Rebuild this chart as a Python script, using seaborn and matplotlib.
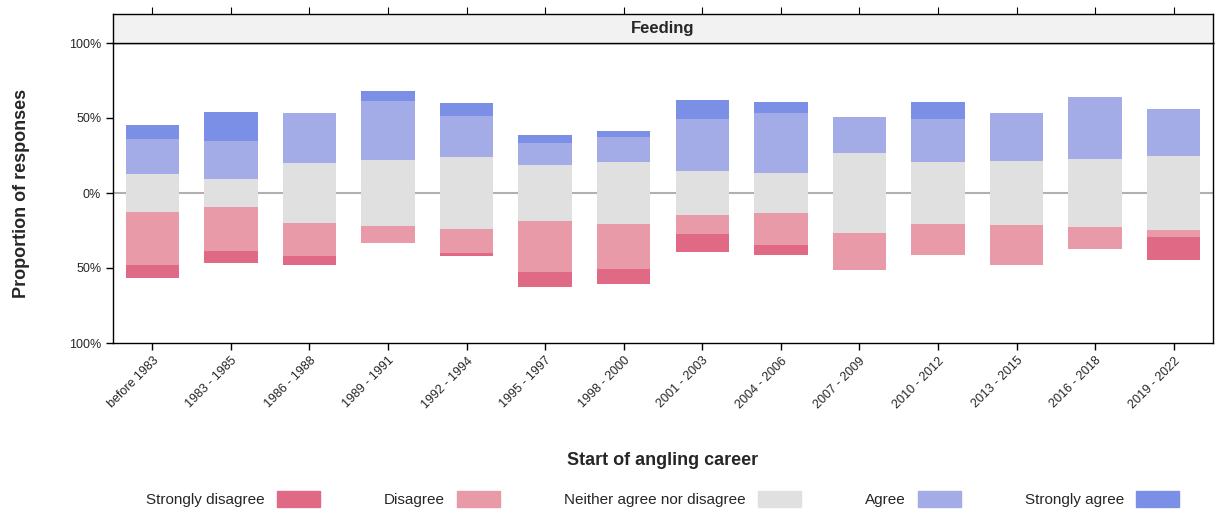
import numpy as np
import matplotlib
matplotlib.use("Agg")
import matplotlib.pyplot as plt
import matplotlib.patches as mpatches
import seaborn as sns

sns.set_style("white")
plt.rcParams['font.family'] = ['Liberation Sans', 'DejaVu Sans']

categories = ["before 1983", "1983 - 1985", "1986 - 1988", "1989 - 1991", "1992 - 1994",
              "1995 - 1997", "1998 - 2000", "2001 - 2003", "2004 - 2006", "2007 - 2009",
              "2010 - 2012", "2013 - 2015", "2016 - 2018", "2019 - 2022"]
strongly_disagree = [8.7, 8.0, 6.0, 0.0, 2.0, 10.0, 10.0, 12.0, 6.7, 0.0, 0.0, 0.0, 0.0, 15.3]
disagree          = [35.3, 29.3, 22.0, 11.3, 16.0, 34.0, 30.0, 13.3, 20.7, 24.7, 20.7, 26.7, 14.7, 4.7]
neutral           = [25.3, 19.3, 40.0, 44.0, 48.0, 37.3, 40.7, 28.7, 27.3, 52.7, 41.3, 42.7, 45.3, 49.3]
agree             = [23.3, 25.3, 33.3, 39.3, 27.3, 14.7, 17.3, 34.7, 40.0, 24.0, 28.7, 32.0, 41.3, 31.3]
strongly_agree    = [9.3, 19.3, 0.0, 6.7, 8.7, 5.3, 4.0, 12.7, 7.3, 0.0, 11.3, 0.0, 0.0, 0.0]
levels = ["Strongly disagree", "Disagree", "Neither agree nor disagree", "Agree", "Strongly agree"]
colors = ["#e06a85", "#e89aa8", "#e0e0e0", "#a3ace6", "#7b8fe6"]

fig = plt.figure(figsize=(12.16, 5.12), dpi=100)
ax = fig.add_axes([113/1216, 1-343/512, 1100/1216, 300/512])
x = np.arange(len(categories))
w = 0.68
sd, d, n, a, sa = map(np.array, (strongly_disagree, disagree, neutral, agree, strongly_agree))
kw = dict(linewidth=0, edgecolor="none", zorder=2)
ax.bar(x, n, w, bottom=-n/2, color=colors[2], **kw)
ax.bar(x, -d, w, bottom=-n/2, color=colors[1], **kw)
ax.bar(x, -sd, w, bottom=-n/2-d, color=colors[0], **kw)
ax.bar(x, a, w, bottom=n/2, color=colors[3], **kw)
ax.bar(x, sa, w, bottom=n/2+a, color=colors[4], **kw)
ax.axhline(0, color="#b0b0b0", lw=1.5, zorder=1)
ax.set_xlim(-0.5, len(categories)-0.5)
ax.set_ylim(-100, 100)
ax.set_yticks([-100, -50, 0, 50, 100])
ax.set_yticklabels(["100%", "50%", "0%", "50%", "100%"], fontsize=9)
ax.set_xticks(x)
ax.set_xticklabels(categories, rotation=45, ha="right", rotation_mode="anchor", fontsize=9)
ax.tick_params(axis="both", direction="out", length=5, width=1, color="black", left=True, bottom=True)
for s in ax.spines.values():
    s.set_color("black"); s.set_linewidth(1)
ax.set_ylabel("Proportion of responses", fontsize=13, fontweight="bold", labelpad=28)
ax.set_xlabel("Start of angling career", fontsize=13, fontweight="bold", labelpad=30)

# strip
sax = fig.add_axes([113/1216, 1-43/512, 1100/1216, 29/512])
sax.set_facecolor("#f2f2f2")
sax.set_xlim(-0.5, len(categories)-0.5)
sax.set_yticks([])
sax.set_xticks(x)
sax.set_xticklabels([])
sax.tick_params(axis="x", top=True, bottom=False, direction="out", length=5, color="black")
for s in sax.spines.values():
    s.set_color("black"); s.set_linewidth(1)
sax.text(0.5, 0.5, "Feeding", transform=sax.transAxes, ha="center", va="center",
         fontsize=12, fontweight="bold")

handles = [mpatches.Patch(color=c) for c in colors]
fig.legend(handles, levels, loc="lower center", bbox_to_anchor=(0.545, -0.018), ncol=5,
           frameon=False, markerfirst=False, fontsize=11, handlelength=2.8, handleheight=1.3,
           columnspacing=4.2)
fig.savefig("out.png", dpi=100)
